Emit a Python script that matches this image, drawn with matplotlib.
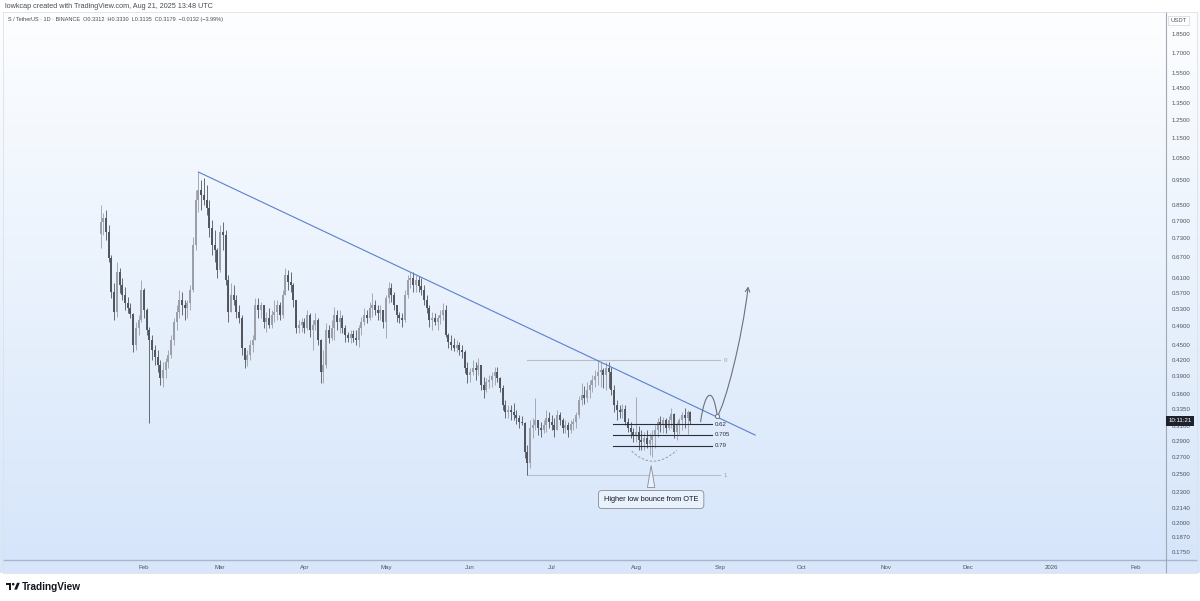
import numpy as np
import pandas as pd
import matplotlib
matplotlib.use("Agg")
import matplotlib.pyplot as plt
import matplotlib.dates as mdates
from matplotlib.path import Path
from matplotlib.patches import PathPatch, FancyArrowPatch, Rectangle, Polygon, Circle
from matplotlib.ticker import NullLocator

plt.rcParams['font.family'] = ['Liberation Sans', 'DejaVu Sans']

W, H = 1200, 601

# S/USDT daily candles 2025-01-16 .. 2025-08-21
first_day = "2025-01-16"
first_open = 0.745
highs = [
    # jan
    0.849, 0.819, 0.830, 0.775, 0.676, 0.596, 0.655, 0.638, 0.609, 0.585, 0.559, 0.544, 0.520, 0.499, 0.515, 0.604,
    # feb
    0.582, 0.532, 0.488, 0.470, 0.449, 0.439, 0.419, 0.415, 0.423, 0.439, 0.470, 0.508, 0.539, 0.577,
    0.572, 0.551, 0.551, 0.590, 0.734, 0.909, 0.987, 0.952, 0.961, 0.931, 0.869, 0.793, 0.758, 0.698,
    # mar
    0.775, 0.786, 0.758, 0.617, 0.596, 0.590, 0.564, 0.539, 0.515, 0.443, 0.439, 0.459, 0.470, 0.556, 0.556, 0.546,
    0.539, 0.522, 0.532, 0.527, 0.551, 0.551, 0.546, 0.577, 0.638, 0.632, 0.626, 0.596, 0.551, 0.503, 0.508,
    # apr
    0.508, 0.527, 0.520, 0.503, 0.520, 0.508, 0.462, 0.439, 0.496, 0.492, 0.503, 0.534, 0.527, 0.527, 0.515,
    0.492, 0.476, 0.481, 0.481, 0.481, 0.492, 0.510, 0.532, 0.527, 0.546, 0.569, 0.551, 0.539, 0.539, 0.527,
    # may
    0.564, 0.598, 0.596, 0.572, 0.539, 0.522, 0.520, 0.577, 0.617, 0.626, 0.626, 0.617, 0.615, 0.609, 0.590, 0.564,
    0.539, 0.522, 0.520, 0.515, 0.527, 0.544, 0.539, 0.474, 0.470, 0.463, 0.459, 0.455, 0.449, 0.439, 0.415,
    # jun
    0.405, 0.419, 0.415, 0.423, 0.410, 0.388, 0.387, 0.392, 0.397, 0.406, 0.406, 0.388, 0.374, 0.350, 0.342,
    0.342, 0.345, 0.334, 0.327, 0.325, 0.316, 0.285, 0.319, 0.322, 0.353, 0.319, 0.316, 0.319, 0.334, 0.331,
    # jul
    0.327, 0.322, 0.334, 0.331, 0.322, 0.319, 0.316, 0.319, 0.322, 0.331, 0.356, 0.378, 0.373, 0.380, 0.383, 0.392,
    0.401, 0.419, 0.415, 0.405, 0.415, 0.415, 0.406, 0.374, 0.350, 0.342, 0.344, 0.342, 0.322, 0.316, 0.308,
    # aug
    0.355, 0.310, 0.305, 0.302, 0.305, 0.301, 0.305, 0.312, 0.322, 0.325, 0.323, 0.322, 0.325, 0.337, 0.330,
    0.316, 0.322, 0.331, 0.337, 0.334, 0.3330,
]
lows = [
    0.698, 0.741, 0.724, 0.655, 0.556, 0.503, 0.510, 0.569, 0.551, 0.527, 0.520, 0.508, 0.435, 0.439, 0.470, 0.499,
    0.508, 0.470, 0.315, 0.419, 0.410, 0.397, 0.374, 0.371, 0.387, 0.405, 0.423, 0.449, 0.481, 0.508,
    0.515, 0.503, 0.508, 0.527, 0.572, 0.692, 0.822, 0.830, 0.849, 0.811, 0.734, 0.676, 0.655, 0.609,
    0.626, 0.692, 0.590, 0.499, 0.522, 0.539, 0.508, 0.496, 0.429, 0.405, 0.408, 0.419, 0.435, 0.459, 0.508, 0.508,
    0.485, 0.476, 0.485, 0.485, 0.499, 0.503, 0.503, 0.508, 0.564, 0.577, 0.572, 0.534, 0.474, 0.474, 0.476,
    0.474, 0.481, 0.466, 0.439, 0.481, 0.449, 0.378, 0.378, 0.405, 0.453, 0.460, 0.459, 0.481, 0.474, 0.474,
    0.455, 0.455, 0.453, 0.455, 0.449, 0.445, 0.470, 0.492, 0.496, 0.503, 0.510, 0.515, 0.503, 0.503, 0.485,
    0.463, 0.544, 0.546, 0.527, 0.499, 0.496, 0.488, 0.499, 0.556, 0.582, 0.572, 0.572, 0.572, 0.564, 0.539, 0.520,
    0.488, 0.481, 0.492, 0.481, 0.494, 0.503, 0.466, 0.443, 0.439, 0.437, 0.435, 0.429, 0.423, 0.396, 0.378,
    0.380, 0.392, 0.383, 0.392, 0.366, 0.353, 0.363, 0.369, 0.371, 0.374, 0.380, 0.363, 0.334, 0.322, 0.322,
    0.319, 0.319, 0.313, 0.308, 0.312, 0.268, 0.249, 0.256, 0.294, 0.305, 0.298, 0.296, 0.301, 0.302, 0.308,
    0.305, 0.296, 0.305, 0.312, 0.301, 0.301, 0.296, 0.301, 0.305, 0.308, 0.322, 0.342, 0.344, 0.347, 0.353, 0.363,
    0.371, 0.374, 0.371, 0.369, 0.366, 0.369, 0.358, 0.331, 0.319, 0.322, 0.322, 0.312, 0.302, 0.294, 0.289,
    0.289, 0.278, 0.278, 0.278, 0.281, 0.272, 0.270, 0.281, 0.296, 0.302, 0.301, 0.301, 0.305, 0.308, 0.294,
    0.291, 0.300, 0.305, 0.308, 0.300, 0.3135,
]
closes = [
    0.786, 0.800, 0.751, 0.667, 0.572, 0.522, 0.626, 0.590, 0.564, 0.544, 0.532, 0.517, 0.449, 0.485, 0.503, 0.577,
    0.527, 0.481, 0.459, 0.439, 0.425, 0.410, 0.387, 0.401, 0.415, 0.429, 0.459, 0.499, 0.522, 0.551,
    0.539, 0.532, 0.544, 0.577, 0.708, 0.869, 0.909, 0.889, 0.869, 0.838, 0.765, 0.708, 0.692, 0.632,
    0.751, 0.741, 0.604, 0.522, 0.564, 0.551, 0.522, 0.508, 0.443, 0.419, 0.429, 0.449, 0.459, 0.539, 0.527, 0.539,
    0.499, 0.508, 0.492, 0.515, 0.522, 0.539, 0.515, 0.564, 0.617, 0.598, 0.590, 0.551, 0.485, 0.492, 0.499,
    0.485, 0.515, 0.481, 0.492, 0.503, 0.459, 0.397, 0.410, 0.481, 0.463, 0.485, 0.515, 0.499, 0.508, 0.485,
    0.470, 0.463, 0.472, 0.463, 0.459, 0.485, 0.499, 0.515, 0.508, 0.532, 0.539, 0.527, 0.520, 0.527, 0.499,
    0.556, 0.582, 0.564, 0.539, 0.515, 0.508, 0.503, 0.564, 0.604, 0.609, 0.590, 0.604, 0.587, 0.577, 0.551, 0.532,
    0.503, 0.508, 0.499, 0.508, 0.515, 0.527, 0.470, 0.455, 0.449, 0.443, 0.449, 0.439, 0.435, 0.405, 0.392,
    0.397, 0.405, 0.401, 0.410, 0.374, 0.366, 0.380, 0.383, 0.390, 0.397, 0.387, 0.369, 0.342, 0.331, 0.334,
    0.331, 0.327, 0.322, 0.316, 0.315, 0.276, 0.263, 0.308, 0.312, 0.319, 0.308, 0.305, 0.312, 0.322, 0.316,
    0.312, 0.305, 0.327, 0.319, 0.308, 0.312, 0.305, 0.313, 0.316, 0.327, 0.350, 0.358, 0.353, 0.366, 0.374, 0.383,
    0.390, 0.397, 0.401, 0.392, 0.405, 0.397, 0.366, 0.342, 0.334, 0.331, 0.336, 0.316, 0.308, 0.302, 0.297,
    0.302, 0.291, 0.289, 0.294, 0.286, 0.291, 0.298, 0.305, 0.316, 0.312, 0.319, 0.308, 0.319, 0.328, 0.302,
    0.312, 0.319, 0.326, 0.322, 0.3312, 0.3179,
]

price_ticks = [1.85, 1.70, 1.55, 1.45, 1.35, 1.25, 1.15, 1.05, 0.95, 0.85, 0.79, 0.73, 0.67, 0.61, 0.57,
               0.53, 0.49, 0.45, 0.42, 0.39, 0.36, 0.335, 0.31, 0.29, 0.27, 0.25, 0.23, 0.214, 0.20, 0.187, 0.175]
month_ticks = ["2025-02-01", "2025-03-01", "2025-04-01", "2025-05-01", "2025-06-01", "2025-07-01", "2025-08-01",
               "2025-09-01", "2025-10-01", "2025-11-01", "2025-12-01", "2026-01-01", "2026-02-01"]
month_labels = ["Feb", "Mar", "Apr", "May", "Jun", "Jul", "Aug", "Sep", "Oct", "Nov", "Dec", "2026", "Feb"]

# drawings
trend_dates = ["2025-02-21", "2025-09-13 21:00"]
trend_prices = [0.987, 0.298]
fib_0, fib_1 = 0.4190, 0.2480
fib_span = ["2025-06-21 18:00", "2025-08-31 22:00"]
ote_levels = [0.62, 0.705, 0.79]
ote_labels = ["0.62", "0.705", "0.79"]
ote_span = ["2025-07-23 14:00", "2025-08-28 22:00"]
arc_dates = ["2025-07-30 10:00", "2025-08-07 07:00", "2025-08-16 00:00"]
arc_prices = [0.277, 0.252, 0.278]
proj_dates = ["2025-08-24 19:00", "2025-08-26 10:00", "2025-08-29 10:00", "2025-08-30 22:00",
              "2025-09-02 19:00", "2025-09-09 00:00", "2025-09-11 07:00"]
proj_prices = [0.3167, 0.366, 0.374, 0.3245, 0.342, 0.459, 0.586]
note_text = "Higher low bounce from OTE"
note_tip = ("2025-08-06 14:00", 0.2625)
note_box = ("2025-08-06 14:00", 0.2222)

header_1 = "lowkcap created with TradingView.com, Aug 21, 2025 13:48 UTC"
header_2 = "S / TetherUS \u00b7 1D \u00b7 BINANCE  O0.3312  H0.3330  L0.3135  C0.3179  \u22120.0132 (\u22123.99%)"

up_color = "#9a9ea8"
down_color = "#50545d"
line_blue = "#5b7fd0"


def d(s):
    return mdates.date2num(pd.Timestamp(s))


fig = plt.figure(figsize=(W / 100, H / 100), dpi=100)

# background: white page, blue-ish gradient behind the chart pane
bg = fig.add_axes([0, 0, 1, 1], zorder=-10)
bg.set_xlim(0, W)
bg.set_ylim(H, 0)
bg.axis("off")
top_c = np.array([253, 254, 255]) / 255
bot_c = np.array([213, 229, 250]) / 255
t = np.linspace(0, 1, 300)[:, None, None]
grad = top_c * (1 - t) + bot_c * t
bg.imshow(np.repeat(grad, 2, axis=1), extent=(0, W, 573, 12), aspect="auto", interpolation="bilinear")
bg.add_patch(Rectangle((0, 559), W, 14, color="#d7e6fa", lw=0))
bg.plot([3, 1197], [559.5, 559.5], color="#a9b6c8", lw=1.0)
bg.plot([1165.5, 1165.5], [12, 573], color="#a0a8b4", lw=0.8)
bg.plot([3, 1197, 1197, 3, 3], [12, 12, 573, 573, 12], color="#dde1e6", lw=0.6)

bg.text(5, 7, header_1, fontsize=5.2, color="#4a4d55", va="center", ha="left")
bg.text(8, 20, header_2, fontsize=4.0, color="#4a4d55", va="center", ha="left")

# tradingview logo
bg.add_patch(Rectangle((6, 582.8), 5.2, 2.4, color="#131722", lw=0))
bg.add_patch(Rectangle((8.6, 582.8), 2.6, 6.8, color="#131722", lw=0))
bg.add_patch(Circle((13.2, 584.2), 1.3, color="#131722", lw=0))
bg.add_patch(Polygon([(14.2, 589.6), (17.0, 582.8), (19.8, 582.8), (17.0, 589.6)], color="#131722", lw=0))
bg.text(22, 586.5, "TradingView", fontsize=7.2, fontweight="bold", color="#131722", va="center", ha="left")

# main chart axes
ax = fig.add_axes([5 / W, 1 - 559 / H, 1160 / W, 547 / H])
ax.set_facecolor("none")
ax.set_yscale("log")
base = d("2025-02-01")
ax.set_xlim(base - 51.14, base + 375.65)
ax.set_ylim(0.1695, 2.045)
for s in ax.spines.values():
    s.set_visible(False)

ax.yaxis.tick_right()
ax.set_yticks(price_ticks)
ax.set_yticklabels([f"{v:.4f}" for v in price_ticks])
ax.yaxis.set_minor_locator(NullLocator())
ax.tick_params(axis="y", length=0, pad=5, labelsize=4.4, labelcolor="#50545c")
ax.set_xticks([d(m) for m in month_ticks])
ax.set_xticklabels(month_labels)
ax.xaxis.set_minor_locator(NullLocator())
ax.tick_params(axis="x", length=0, pad=4, labelsize=4.4, labelcolor="#50545c")

# candles
dates = pd.date_range(first_day, periods=len(closes), freq="D")
x = mdates.date2num(dates)
c = np.array(closes)
o = np.array([first_open] + closes[:-1])
hi = np.maximum(np.array(highs), np.maximum(o, c))
lo = np.minimum(np.array(lows), np.minimum(o, c))
cols = np.where(c >= o, up_color, down_color)
ax.vlines(x, lo, hi, colors=cols, lw=0.6, zorder=3)
ax.vlines(x, np.minimum(o, c), np.maximum(o, c), colors=cols, lw=1.4, zorder=3)

# descending trend line
ax.plot([d(s) for s in trend_dates], trend_prices, color=line_blue, lw=0.8, zorder=4)

# fib retracement 0 / 1 and OTE band
f0, f1 = d(fib_span[0]), d(fib_span[1])
ax.plot([f0, f1], [fib_0, fib_0], color="#b9bdc5", lw=0.8, zorder=2)
ax.plot([f0, f1], [fib_1, fib_1], color="#b9bdc5", lw=0.8, zorder=2)
ax.text(f1 + 1.5, fib_0, "0", fontsize=4.4, color="#9a9fa8", va="center", ha="left")
ax.text(f1 + 1.5, fib_1, "1", fontsize=4.4, color="#9a9fa8", va="center", ha="left")
o0, o1 = d(ote_span[0]), d(ote_span[1])
for lev, lab in zip(ote_levels, ote_labels):
    p = fib_0 - lev * (fib_0 - fib_1)
    ax.plot([o0, o1], [p, p], color="#2a2e39", lw=0.8, zorder=4)
    ax.text(o1 + 1.2, p, lab, fontsize=4.4, color="#2a2e39", va="center", ha="left")

# dashed arc under the higher low
arc = Path([(d(a), b) for a, b in zip(arc_dates, arc_prices)], [Path.MOVETO, Path.CURVE3, Path.CURVE3])
ax.add_patch(PathPatch(arc, fill=False, ec="#8c919a", lw=0.6, ls=(0, (3, 2)), zorder=4))

# projected path with arrow
proj = Path([(d(a), b) for a, b in zip(proj_dates, proj_prices)],
            [Path.MOVETO, Path.CURVE4, Path.CURVE4, Path.CURVE4, Path.CURVE4, Path.CURVE4, Path.CURVE4])
ax.add_patch(FancyArrowPatch(path=proj, arrowstyle="->,head_length=3,head_width=1.6",
                             color="#6b707a", lw=0.8, zorder=5))
ax.plot(d(proj_dates[3]), proj_prices[3], marker="o", ms=3, mfc="#eef4fc", mec="#6b707a", mew=0.7, zorder=6)

# callout
ax.annotate(note_text, xy=(d(note_tip[0]), note_tip[1]), xytext=(d(note_box[0]), note_box[1]),
            fontsize=5.3, color="#131722", ha="center", va="center", zorder=7,
            bbox=dict(boxstyle="round,pad=0.75,rounding_size=0.5", fc="#e9f1fc", ec="#858b96", lw=0.6),
            arrowprops=dict(arrowstyle="wedge,tail_width=1.0,shrink_factor=0.5",
                            fc="#e9f1fc", ec="#858b96", lw=0.6))

# price axis extras
ax.text(1.0045, 2.045 / 1.04, "USDT", transform=ax.get_yaxis_transform(), fontsize=4.2, color="#50545c",
        va="center", ha="left", clip_on=False,
        bbox=dict(boxstyle="square,pad=0.4", fc="#ffffff", ec="#d0d4da", lw=0.5))
ax.text(1.0030, closes[-1], "10:11:21", transform=ax.get_yaxis_transform(), fontsize=4.4, color="#ffffff",
        va="center", ha="left", clip_on=False, zorder=10,
        bbox=dict(boxstyle="square,pad=0.35", fc="#1e222d", ec="none"))

fig.savefig("out.png", dpi=100)
